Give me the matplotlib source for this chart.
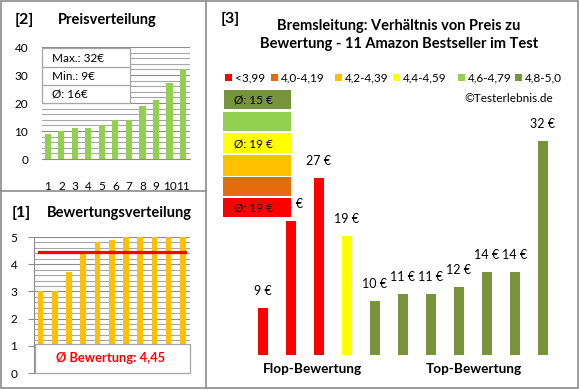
import matplotlib
matplotlib.use("Agg")
import matplotlib.pyplot as plt
from matplotlib.patches import Rectangle
import numpy as np

plt.rcParams['font.family'] = ['Lato', 'DejaVu Sans']

# ---- data ----
product_idx = list(range(1, 12))
prices_sorted = [9, 10, 11, 11, 12, 14, 14, 19, 21, 27, 32]
ratings_sorted = [3.0, 3.0, 3.7, 4.4, 4.8, 4.9, 5.0, 5.0, 5.0, 5.0, 5.0]
avg_rating = 4.45
price_max, price_min, price_avg = 32, 9, 16

bar_prices = [9, 21, 27, 19, 10, 11, 11, 12, 14, 14, 32]
bar_classes = [0, 0, 0, 3, 5, 5, 5, 5, 5, 5, 5]

class_labels = ['<3,99', '4,0-4,19', '4,2-4,39', '4,4-4,59', '4,6-4,79', '4,8-5,0']
class_colors = ['#FF0000', '#E46C0A', '#FFC000', '#FFFF00', '#92D050', '#77933C']

title3 = "Bremsleitung: Verhältnis von Preis zu\nBewertung - 11 Amazon Bestseller im Test"

W, H = 580, 390
fig = plt.figure(figsize=(W / 100, H / 100), dpi=100)
fig.patch.set_facecolor('white')


def ax_px(l, t, r, b, **kw):
    return fig.add_axes([l / W, 1 - b / H, (r - l) / W, (b - t) / H], **kw)


GRID = '#A6A6A6'
TXT = '#000000'

# ---- panel 2: Preisverteilung ----
ax2 = ax_px(42, 47, 190, 159)
ax2.bar(product_idx, prices_sorted, width=0.45, color='#92D050', zorder=3)
ax2.set_xlim(0.56, 11.52)
ax2.set_ylim(0, 40)
ax2.set_yticks(range(0, 41, 10))
for v in np.arange(0, 41, 2):
    ax2.axhline(v, color=GRID if v % 10 else '#8C8C8C', lw=0.8, zorder=1)
for s in ['top', 'right', 'left']:
    ax2.spines[s].set_visible(False)
ax2.spines['bottom'].set_color('#8C8C8C')
ax2.set_xticks(product_idx)
ax2.set_xticklabels([str(i) for i in product_idx])
ax2.tick_params(axis='x', length=0, pad=16, labelsize=8.5)
ax2.tick_params(axis='y', length=0, pad=10, labelsize=8.5)

# ---- panel 1: Bewertungsverteilung ----
ax1 = ax_px(34, 237, 190, 373)
ax1.bar(product_idx, ratings_sorted, width=0.4, color='#FFC000', zorder=3)
ax1.set_xlim(0.54, 11.5)
ax1.set_ylim(0, 5)
ax1.set_yticks(range(0, 6))
for v in np.arange(0, 5.01, 0.2):
    ax1.axhline(v, color=GRID if abs(v - round(v)) > 1e-6 else '#8C8C8C', lw=0.8, zorder=1)
ax1.plot([product_idx[0] - 0.1, product_idx[-1] + 0.15], [avg_rating, avg_rating],
         color='#FF0000', lw=2.3, zorder=4)
for s in ['top', 'right', 'bottom']:
    ax1.spines[s].set_visible(False)
ax1.spines['left'].set_color('#8C8C8C')
ax1.set_xticks([])
ax1.tick_params(axis='y', length=4, color='#8C8C8C', pad=8, labelsize=8.5)

# ---- panel 3: Preis vs Bewertung ----
ax3 = ax_px(249, 60, 557, 355)
bar_cols = [class_colors[c] for c in bar_classes]
ax3.bar(product_idx, bar_prices, width=0.39, color=bar_cols, zorder=3)
ax3.set_xlim(0.5, 11.5)
ax3.set_ylim(2.6, 43.2)
ax3.axis('off')
for x, v in zip(product_idx, bar_prices):
    ax3.annotate(f"{v} €", (x, v), xytext=(0, 8), textcoords='offset points',
                 ha='center', va='bottom', fontsize=9, color=TXT)

# ---- overlay for frames, titles, boxes ----
ov = fig.add_axes([0, 0, 1, 1], zorder=10)
ov.set_xlim(0, W)
ov.set_ylim(H, 0)
ov.axis('off')
ov.patch.set_alpha(0)

bc = '#8C8C8C'
ov.add_patch(Rectangle((1, 1), W - 3, H - 3, fill=False, ec=bc, lw=1.2))
ov.plot([205.5, 205.5], [1, H - 2], color=bc, lw=1.2)
ov.plot([1, 205.5], [191, 191], color=bc, lw=1.2)

# titles
ov.text(15, 20, "[2]", fontsize=11.5, fontweight='bold', va='center', ha='left')
ov.text(58, 20, "Preisverteilung", fontsize=10.5, fontweight='bold', va='center', ha='left')
ov.text(12, 213, "[1]", fontsize=11.5, fontweight='bold', va='center', ha='left')
ov.text(47, 213, "Bewertungsverteilung", fontsize=10.5, fontweight='bold', va='center', ha='left')
ov.text(221, 19, "[3]", fontsize=11.5, fontweight='bold', va='center', ha='left')
ov.text(399, 35, title3, fontsize=10.5, fontweight='bold', va='center', ha='center',
        linespacing=1.3)

# info box panel 2
ov.add_patch(Rectangle((42, 48), 88, 55, fc='white', ec='#A6A6A6', lw=0.9))
ov.plot([42, 130], [67, 67], color='#A6A6A6', lw=0.9)
ov.plot([42, 130], [85, 85], color='#A6A6A6', lw=0.9)
ov.text(52, 58, f"Max.: {price_max}€", fontsize=8.5, va='center', ha='left')
ov.text(52, 76, f"Min.: {price_min}€", fontsize=8.5, va='center', ha='left')
ov.text(52, 94, f"Ø: {price_avg}€", fontsize=8.5, va='center', ha='left')

# rating box panel 1
ov.add_patch(Rectangle((35, 344), 155, 29, fc='white', ec='#A6A6A6', lw=0.9))
ov.text(111, 358, "Ø Bewertung: " + f"{avg_rating:.2f}".replace('.', ','),
        fontsize=9.3, fontweight='bold', color='#FF0000', va='center', ha='center')

# legend panel 3
leg_x = [225, 271, 335, 393, 458, 515]
for x, lab, col in zip(leg_x, class_labels, class_colors):
    ov.add_patch(Rectangle((x, 73.5), 7, 7, fc=col, ec='none'))
    ov.text(x + 10, 77.5, lab, fontsize=8.5, va='center', ha='left')
ov.text(553, 98, "©Testerlebnis.de", fontsize=8.5, va='center', ha='right')

# average boxes
box_rows = [(90, 109), (112, 131), (133, 153), (155, 176), (177, 196), (198, 217)]
for cls, (t, b) in zip([5, 4, 3, 2, 1, 0], box_rows):
    x0 = 224 if cls == 5 else 223
    ov.add_patch(Rectangle((x0, t), 291 - x0, b - t, fc=class_colors[cls], ec='none'))
    vals = [p for p, c in zip(bar_prices, bar_classes) if c == cls]
    if vals:
        ov.text(234, (t + b) / 2 + 0.5, f"Ø: {round(np.mean(vals)):.0f} €",
                fontsize=8.5, va='center', ha='left')

# group labels
ov.text(312, 369, "Flop-Bewertung", fontsize=9.8, fontweight='bold', va='center', ha='center')
ov.text(474, 369, "Top-Bewertung", fontsize=9.8, fontweight='bold', va='center', ha='center')

fig.savefig("out.png", dpi=100, facecolor='white')
